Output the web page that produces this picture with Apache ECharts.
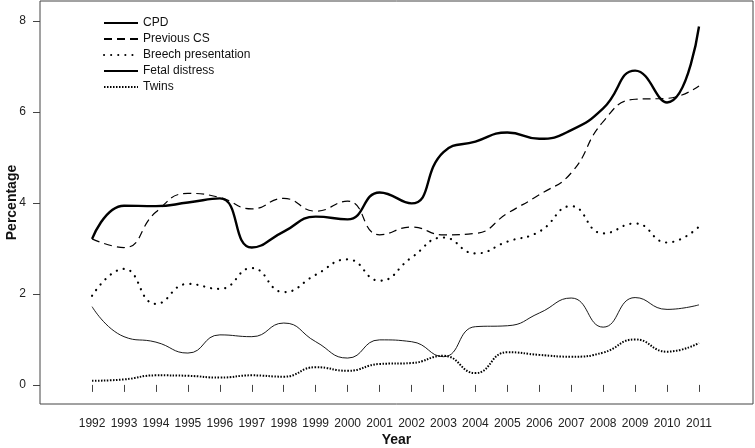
<!DOCTYPE html>
<html>
<head>
<meta charset="utf-8">
<script src="https://cdn.jsdelivr.net/npm/echarts@6/dist/echarts.min.js"></script>
<style>html,body{margin:0;padding:0;background:#fff;}#c{width:755px;height:448px;}</style>
</head>
<body>
<div id="c"></div>
<script>
var years = [1992,1993,1994,1995,1996,1997,1998,1999,2000,2001,2002,2003,2004,2005,2006,2007,2008,2009,2010,2011];
var yTicks = [0,2,4,6,8];
var cpd      = [3.21,3.94,3.93,4.01,4.10,3.02,3.37,3.70,3.64,4.23,3.99,5.12,5.35,5.55,5.41,5.60,6.08,6.91,6.21,7.88];
var prevCS   = [3.21,3.02,3.80,4.21,4.12,3.87,4.10,3.82,4.04,3.30,3.47,3.30,3.33,3.77,4.18,4.66,5.79,6.28,6.30,6.57];
var breech   = [1.96,2.55,1.78,2.22,2.11,2.57,2.04,2.42,2.76,2.29,2.80,3.24,2.89,3.15,3.37,3.93,3.33,3.55,3.13,3.48];
var fetal    = [1.72,1.06,0.94,0.70,1.10,1.06,1.36,0.95,0.59,0.99,0.95,0.62,1.28,1.30,1.58,1.91,1.27,1.92,1.66,1.76];
var twins    = [0.09,0.12,0.21,0.20,0.16,0.21,0.18,0.39,0.31,0.46,0.48,0.64,0.26,0.72,0.66,0.62,0.71,1.00,0.73,0.92];
var seriesNames = ['CPD','Previous CS','Breech presentation','Fetal distress','Twins'];

function pairs(v){ return years.map(function(y,i){ return [y, v[i]]; }); }
var font = 'Liberation Sans, Arial, sans-serif';
var styles = [
  {width:2.4, type:'solid', cap:'butt'},
  {width:1.2, type:[8,5], cap:'butt'},
  {width:2.2, type:[0.1,7], cap:'round'},
  {width:0.9, type:'solid', cap:'butt'},
  {width:2, type:[1.5,1.5], cap:'butt'}
];
var data = [cpd, prevCS, breech, fetal, twins];
var chart = echarts.init(document.getElementById('c'), null, {renderer:'canvas'});
chart.setOption({
  animation:false,
  backgroundColor:'#fff',
  grid:{left:40, right:2, top:1, bottom:44, outerBoundsMode:'none', containLabel:false, show:true, borderColor:'#444', borderWidth:1, backgroundColor:'transparent'},
  legend:{
    left:103, top:17, padding:0, orient:'vertical', itemWidth:34, itemHeight:12, itemGap:4,
    itemStyle:{opacity:0},
    textStyle:{fontFamily:font, fontSize:12, color:'#111'},
    data:seriesNames
  },
  xAxis:{
    type:'value', min:1990.37, max:2012.69,
    name:'Year', nameLocation:'middle', nameGap:29, nameMoveOverlap:false,
    nameTextStyle:{fontFamily:font, fontSize:14, fontWeight:'bold', color:'#111'},
    axisLine:{show:false},
    splitLine:{show:false},
    axisTick:{show:true, length:7, customValues:years, lineStyle:{color:'#444'}},
    axisLabel:{customValues:years, margin:14, fontFamily:font, fontSize:12, color:'#222', formatter:function(v){return String(v);}}
  },
  yAxis:{
    type:'value', min:-0.42, max:8.44,
    name:'Percentage', nameLocation:'middle', nameGap:21, nameMoveOverlap:false,
    nameTextStyle:{fontFamily:font, fontSize:14, fontWeight:'bold', color:'#111'},
    axisLine:{show:false},
    splitLine:{show:false},
    axisTick:{show:true, length:7, customValues:yTicks, lineStyle:{color:'#444'}},
    axisLabel:{customValues:yTicks, margin:14, fontFamily:font, fontSize:12, color:'#222'}
  },
  series: seriesNames.map(function(n,i){
    return {
      name:n, type:'line', data:pairs(data[i]), smooth:0.5, symbol:'none',
      lineStyle:{color:'#000', width:styles[i].width, type:styles[i].type, cap:styles[i].cap},
      itemStyle:{color:'#000'}
    };
  })
});
</script>
</body>
</html>
